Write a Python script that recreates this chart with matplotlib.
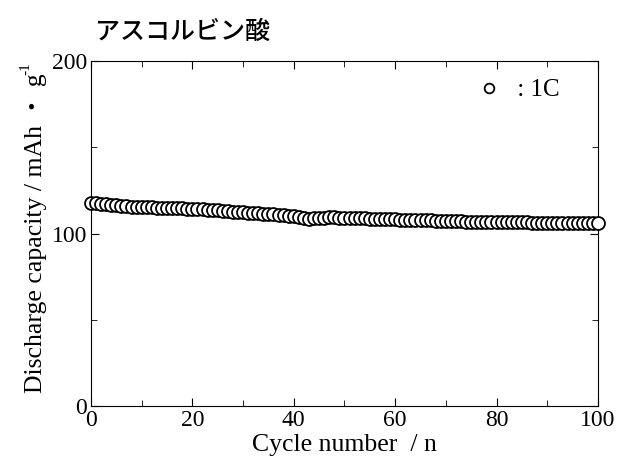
import numpy as np
import matplotlib
matplotlib.use("Agg")
import matplotlib.pyplot as plt
from matplotlib.ticker import MultipleLocator

plt.rcParams['font.family'] = ['Liberation Serif', 'Noto Sans CJK JP']

cycles = list(range(0, 101))
capacity = [
    117.8, 117.5, 117.2, 116.9, 116.6, 116.3, 116.0, 115.8, 115.6, 115.5,
    115.4, 115.3, 115.2, 115.1, 115.0, 114.9, 114.8, 114.7, 114.6, 114.5,
    114.4, 114.2, 114.0, 113.8, 113.6, 113.4, 113.2, 113.0, 112.8, 112.6,
    112.4, 112.2, 112.0, 111.8, 111.6, 111.4, 111.2, 111.0, 110.7, 110.4,
    110.0, 109.5, 109.0, 108.7, 108.9, 109.1, 109.3, 109.4, 109.4, 109.3,
    109.2, 109.1, 109.0, 108.9, 108.8, 108.7, 108.6, 108.5, 108.4, 108.3,
    108.2, 108.1, 108.0, 107.9, 107.8, 107.7, 107.6, 107.6, 107.5, 107.4,
    107.3, 107.3, 107.2, 107.1, 107.0, 107.0, 106.9, 106.9, 106.8, 106.8,
    106.7, 106.7, 106.6, 106.6, 106.5, 106.5, 106.5, 106.4, 106.4, 106.4,
    106.3, 106.3, 106.3, 106.2, 106.2, 106.2, 106.1, 106.1, 106.1, 106.0,
    106.0,
]

fig = plt.figure(figsize=(6.19, 4.70), dpi=100)
ax = fig.add_axes([0.147, 0.136, 0.819, 0.734])

ax.plot(cycles, capacity, 'o', ms=9.3, mfc='white', mec='black', mew=1.3, label=' : 1C',
        clip_on=False, zorder=3)

ax.set_xlim(0, 100)
ax.set_ylim(0, 200)
ax.xaxis.set_major_locator(MultipleLocator(20))
ax.xaxis.set_minor_locator(MultipleLocator(10))
ax.yaxis.set_major_locator(MultipleLocator(100))
ax.yaxis.set_minor_locator(MultipleLocator(50))
ax.tick_params(which='both', direction='in', top=True, right=True, labelsize=17, pad=3)
ax.tick_params(which='major', length=6)
ax.tick_params(which='minor', length=4)

ax.set_xlabel('Cycle number  / n', fontsize=18.5, labelpad=2)
ax.set_ylabel('Discharge capacity / mAh ・ g', fontsize=18.5, labelpad=3)

leg = ax.legend(loc='center right', bbox_to_anchor=(0.925, 0.916), frameon=False,
                fontsize=18, markerscale=0.75, handlelength=1.0, handletextpad=0.4,
                borderpad=0, borderaxespad=0)

fig.text(0.153, 0.932, 'アスコルビン酸', fontsize=18, family='Noto Sans CJK JP',
         fontweight='medium', ha='left', va='center')

# superscript -1 on the rotated y label
fig.canvas.draw()
bb = ax.yaxis.label.get_window_extent()
fig.text((bb.x0 - 6) / fig.bbox.width, (bb.y1 - 1) / fig.bbox.height, '-1',
         rotation=90, fontsize=11, ha='left', va='bottom')

fig.savefig('out.png', dpi=100)
